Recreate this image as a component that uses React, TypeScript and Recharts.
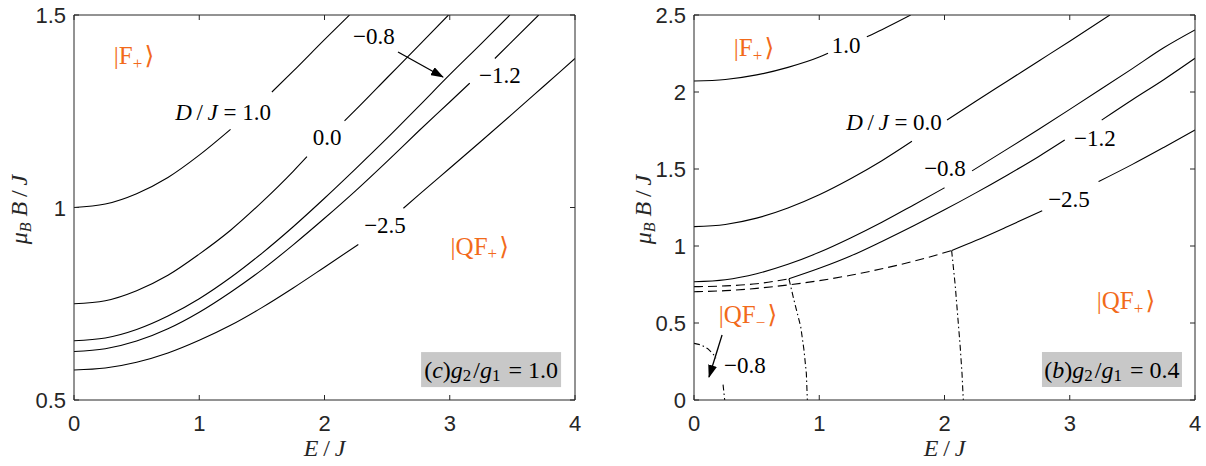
import React from 'react';
import { LineChart, Line, XAxis, YAxis, ReferenceDot, ReferenceLine } from 'recharts';

type Pt = [number, number];

const xTicks = [0, 1, 2, 3, 4];
const yTicksC = [0.5, 1, 1.5];
const yTicksB = [0, 0.5, 1, 1.5, 2, 2.5];

// panel (c), g2/g1 = 1.0 -- curves are cut where the contour labels sit
const c10a: Pt[] = [[0, 1.0], [0.25, 1.009], [0.5, 1.036], [0.75, 1.078], [1.0, 1.136], [1.25, 1.203]];
const c10b: Pt[] = [[1.58, 1.3], [1.75, 1.354], [2.0, 1.436], [2.2, 1.5]];
const c00a: Pt[] = [[0, 0.75], [0.25, 0.758], [0.5, 0.784], [0.75, 0.824], [1.0, 0.879], [1.25, 0.941], [1.5, 1.014], [1.75, 1.094], [1.86, 1.132]];
const c00b: Pt[] = [[2.16, 1.225], [2.25, 1.254], [2.5, 1.337], [2.75, 1.42], [2.99, 1.5]];
const cm08: Pt[] = [[0, 0.654], [0.25, 0.661], [0.5, 0.683], [0.75, 0.718], [1.0, 0.763], [1.25, 0.818], [1.5, 0.881], [1.75, 0.95], [2.0, 1.024], [2.25, 1.101], [2.5, 1.18], [2.75, 1.262], [3.0, 1.345], [3.25, 1.425], [3.48, 1.5]];
const cm12a: Pt[] = [[0, 0.626], [0.25, 0.633], [0.5, 0.653], [0.75, 0.685], [1.0, 0.728], [1.25, 0.78], [1.5, 0.838], [1.75, 0.903], [2.0, 0.972], [2.25, 1.044], [2.5, 1.12], [2.75, 1.198], [3.0, 1.274], [3.16, 1.323]];
const cm12b: Pt[] = [[3.36, 1.387], [3.5, 1.432], [3.71, 1.5]];
const cm25a: Pt[] = [[0, 0.578], [0.25, 0.583], [0.5, 0.598], [0.75, 0.622], [1.0, 0.655], [1.25, 0.694], [1.5, 0.74], [1.75, 0.791], [2.0, 0.845], [2.27, 0.904]];
const cm25b: Pt[] = [[2.63, 0.998], [2.75, 1.032], [3.0, 1.102], [3.25, 1.172], [3.5, 1.243], [3.75, 1.315], [4.0, 1.387]];

// panel (b), g2/g1 = 0.4
const b10a: Pt[] = [[0, 2.071], [0.25, 2.081], [0.5, 2.111], [0.75, 2.16], [1.0, 2.227], [1.07, 2.252]];
const b10b: Pt[] = [[1.38, 2.359], [1.5, 2.405], [1.73, 2.5]];
const b00a: Pt[] = [[0, 1.126], [0.25, 1.14], [0.5, 1.181], [0.75, 1.247], [1.0, 1.333], [1.25, 1.437], [1.5, 1.554], [1.74, 1.68]];
const b00b: Pt[] = [[2.02, 1.818], [2.25, 1.94], [2.5, 2.07], [2.75, 2.2], [3.0, 2.33], [3.32, 2.5]];
const bm08a: Pt[] = [[0, 0.768], [0.25, 0.781], [0.5, 0.82], [0.75, 0.881], [1.0, 0.959], [1.25, 1.052], [1.5, 1.154], [1.75, 1.265], [2.0, 1.378]];
const bm08b: Pt[] = [[2.22, 1.488], [2.5, 1.629], [2.75, 1.757], [3.0, 1.887], [3.25, 2.019], [3.5, 2.152], [3.75, 2.287], [4.0, 2.403]];
const bm12a: Pt[] = [[0.758, 0.787], [1.0, 0.855], [1.25, 0.935], [1.5, 1.03], [1.75, 1.13], [2.0, 1.235], [2.25, 1.345], [2.5, 1.46], [2.75, 1.58], [2.96, 1.688]];
const bm12b: Pt[] = [[3.255, 1.818], [3.5, 1.95], [3.75, 2.08], [4.0, 2.219]];
const bm25a: Pt[] = [[2.057, 0.97], [2.25, 1.035], [2.5, 1.125], [2.78, 1.229]];
const bm25b: Pt[] = [[3.23, 1.418], [3.5, 1.53], [3.75, 1.64], [4.0, 1.753]];
const bDashHi: Pt[] = [[0, 0.736], [0.25, 0.741], [0.5, 0.755], [0.758, 0.787]];
const bDashLo: Pt[] = [[0, 0.703], [0.25, 0.71], [0.5, 0.725], [0.75, 0.747], [1.0, 0.775], [1.25, 0.81], [1.5, 0.852], [1.75, 0.9], [2.057, 0.97]];
const bDotA: Pt[] = [[0.758, 0.787], [0.798, 0.649], [0.852, 0.476], [0.878, 0.325], [0.897, 0.173], [0.905, 0]];
const bDotB: Pt[] = [[2.057, 0.97], [2.085, 0.75], [2.105, 0.55], [2.125, 0.35], [2.14, 0.17], [2.15, 0]];
const bDotC1: Pt[] = [[0, 0.368], [0.06, 0.357], [0.11, 0.333], [0.15, 0.302], [0.175, 0.271]];
const bDotC2: Pt[] = [[0.232, 0.1], [0.245, 0]];

const toXY = (a: Pt[]) => a.map(([x, y]) => ({ x, y }));

const INK = '#262626';
const ORANGE = '#f26a1b';
const SERIF = '"Liberation Serif", "DejaVu Serif", serif';
const SANS = '"Liberation Sans", Arial, sans-serif';

const BottomTick = (p: any) => (
  <g>
    <line x1={p.x} y1={p.y} x2={p.x} y2={p.y - 5} stroke={INK} />
    <text x={p.x} y={p.y + 31} textAnchor="middle" fontFamily={SANS} fontSize={22} fill={INK}>{p.payload.value}</text>
  </g>
);
const TopTick = (p: any) => <line x1={p.x} y1={p.y} x2={p.x} y2={p.y + 5} stroke={INK} />;
const LeftTick = (p: any) => (
  <g>
    <line x1={p.x} y1={p.y} x2={p.x + 5} y2={p.y} stroke={INK} />
    <text x={p.x - 8} y={p.y + 8} textAnchor="end" fontFamily={SANS} fontSize={22} fill={INK}>{p.payload.value}</text>
  </g>
);
const RightTick = (p: any) => <line x1={p.x} y1={p.y} x2={p.x - 5} y2={p.y} stroke={INK} />;

const it = (s: string) => <tspan fontStyle="italic">{s}</tspan>;
const sub = (s: string, d = 6, size = 16) => (
  <>
    <tspan dy={d} fontSize={size}>{s}</tspan>
    <tspan dy={-d}>{'\u200a'}</tspan>
  </>
);

const text = (node: React.ReactNode, fill = '#000', size = 23) => (p: any) => (
  <text x={p.cx} y={p.cy} textAnchor="middle" dominantBaseline="central" fontFamily={SERIF} fontSize={size} fill={fill}>
    {node}
  </text>
);
const ket = (name: string, s: string) => text(<>|{name}{sub(s, 7, 17)}⟩</>, ORANGE, 25);
const dj = (v: string) => text(<>{it('D')}{'\u2009/\u2009'}{it('J')} = {v}</>);
const box = (tag: string, v: string) => (p: any) => (
  <g>
    <rect x={p.cx - 70} y={p.cy - 17.5} width={140} height={35} fill="#c8c8c8" />
    <text x={p.cx} y={p.cy} textAnchor="middle" dominantBaseline="central" fontFamily={SERIF} fontSize={24} fill="#000">
      ({it(tag)}){it('g')}{sub('2', 5, 17)}/{it('g')}{sub('1', 5, 17)} = {v}
    </text>
  </g>
);

type Note = { x: number; y: number; shape: (p: any) => React.ReactElement };
type Arrow = [number, number, number, number];

interface PanelProps {
  left: number;
  width: number;
  yDomain: [number, number];
  yTicks: number[];
  solid: Pt[][];
  dashed: Pt[][];
  dashDot: Pt[][];
  notes: Note[];
  arrows: Arrow[];
  yLabelGap: number;
}

function Panel({ left, width, yDomain, yTicks, solid, dashed, dashDot, notes, arrows, yLabelGap }: PanelProps) {
  const plotW = 501;
  return (
    <div style={{ position: 'absolute', left, top: 0 }}>
      <LineChart width={width} height={466} margin={{ top: 10, right: width - 74 - plotW - 5, bottom: 26, left: 14 }}>
        <XAxis xAxisId="b" dataKey="x" type="number" domain={[0, 4]} ticks={xTicks} allowDataOverflow
          height={40} tickSize={0} tickMargin={0} tickLine={false} stroke={INK} tick={BottomTick} interval={0}
          label={{
            content: (p: any) => {
              const vb = p.viewBox;
              return (
                <text x={vb.x + vb.width / 2} y={vb.y + 56} textAnchor="middle" fontFamily={SERIF} fontSize={24} fill={INK}>
                  {it('E')}{'\u2009/\u2009'}{it('J')}
                </text>
              );
            },
          }}
        />
        <XAxis xAxisId="t" orientation="top" dataKey="x" type="number" domain={[0, 4]} ticks={xTicks} allowDataOverflow
          height={5} tickSize={0} tickMargin={0} tickLine={false} stroke={INK} tick={TopTick} interval={0} />
        <YAxis yAxisId="l" type="number" domain={yDomain} ticks={yTicks} allowDataOverflow width={60}
          tickSize={0} tickMargin={0} tickLine={false} stroke={INK} tick={LeftTick} interval={0}
          label={{
            content: (p: any) => {
              const vb = p.viewBox;
              const cx = vb.x + vb.width - yLabelGap;
              const cy = vb.y + vb.height / 2 + 2;
              return (
                <text x={cx} y={cy} transform={`rotate(-90 ${cx} ${cy})`} textAnchor="middle" dominantBaseline="central"
                  fontFamily={SERIF} fontSize={24} fill={INK}>
                  {it('μ')}<tspan dy={6} fontSize={16} fontStyle="italic">B</tspan><tspan dy={-6}>{' '}</tspan>{it('B')}{'\u2009/\u2009'}{it('J')}
                </text>
              );
            },
          }}
        />
        <YAxis yAxisId="r" orientation="right" type="number" domain={yDomain} ticks={yTicks} allowDataOverflow width={5}
          tickSize={0} tickMargin={0} tickLine={false} stroke={INK} tick={RightTick} interval={0} />
        {solid.map((s, i) => (
          <Line key={`s${i}`} xAxisId="b" yAxisId="l" data={toXY(s)} dataKey="y" type="monotoneX" stroke="#000"
            strokeWidth={1.1} dot={false} activeDot={false} isAnimationActive={false} />
        ))}
        {dashed.map((s, i) => (
          <Line key={`d${i}`} xAxisId="b" yAxisId="l" data={toXY(s)} dataKey="y" type="monotoneX" stroke="#000"
            strokeWidth={1.1} strokeDasharray="9 5" dot={false} activeDot={false} isAnimationActive={false} />
        ))}
        {dashDot.map((s, i) => (
          <Line key={`dd${i}`} xAxisId="b" yAxisId="l" data={toXY(s)} dataKey="y" type="linear" stroke="#000"
            strokeWidth={1.1} strokeDasharray="6 3 1.5 3" dot={false} activeDot={false} isAnimationActive={false} />
        ))}
        {arrows.map(([x1, y1, x2, y2], i) => (
          <ReferenceLine key={`a${i}`} xAxisId="b" yAxisId="l" segment={[{ x: x1, y: y1 }, { x: x2, y: y2 }]}
            stroke="#000" strokeWidth={1.3} markerEnd="url(#arrowHead)" ifOverflow="visible" />
        ))}
        {notes.map((n, i) => (
          <ReferenceDot key={`n${i}`} xAxisId="b" yAxisId="l" x={n.x} y={n.y} r={0} shape={n.shape} ifOverflow="visible" />
        ))}
      </LineChart>
    </div>
  );
}

export default function App() {
  return (
    <div style={{ position: 'absolute', left: 0, top: 0, width: 1206, height: 466, background: '#fff', overflow: 'hidden' }}>
      <svg width={0} height={0} style={{ position: 'absolute' }}>
        <defs>
          <marker id="arrowHead" markerUnits="userSpaceOnUse" markerWidth={13} markerHeight={9} refX={12} refY={4.5} orient="auto">
            <path d="M0,0 L13,4.5 L0,9 z" fill="#000" />
          </marker>
        </defs>
      </svg>
      <Panel
        left={0}
        width={600}
        yDomain={[0.5, 1.5]}
        yTicks={yTicksC}
        solid={[c10a, c10b, c00a, c00b, cm08, cm12a, cm12b, cm25a, cm25b]}
        dashed={[]}
        dashDot={[]}
        arrows={[[2.587, 1.404, 2.946, 1.339]]}
        yLabelGap={55}
        notes={[
          { x: 0.479, y: 1.394, shape: ket('F', '+') },
          { x: 1.19, y: 1.248, shape: dj('1.0') },
          { x: 2.02, y: 1.181, shape: text('0.0') },
          { x: 2.395, y: 1.443, shape: text('−0.8') },
          { x: 3.4, y: 1.344, shape: text('−1.2') },
          { x: 2.483, y: 0.952, shape: text('−2.5') },
          { x: 3.24, y: 0.9, shape: ket('QF', '+') },
          { x: 3.33, y: 0.579, shape: box('c', '1.0') },
        ]}
      />
      <Panel
        left={620}
        width={586}
        yDomain={[0, 2.5]}
        yTicks={yTicksB}
        solid={[b10a, b10b, b00a, b00b, bm08a, bm08b, bm12a, bm12b, bm25a, bm25b]}
        dashed={[bDashHi, bDashLo]}
        dashDot={[bDotA, bDotB, bDotC1, bDotC2]}
        arrows={[[0.224, 0.422, 0.12, 0.149]]}
        yLabelGap={51}
        notes={[
          { x: 0.479, y: 2.286, shape: ket('F', '+') },
          { x: 1.214, y: 2.305, shape: text('1.0') },
          { x: 1.597, y: 1.805, shape: dj('0.0') },
          { x: 2.004, y: 1.506, shape: text('−0.8') },
          { x: 3.2, y: 1.701, shape: text('−1.2') },
          { x: 2.994, y: 1.305, shape: text('−2.5') },
          { x: 3.449, y: 0.643, shape: ket('QF', '+') },
          { x: 0.431, y: 0.552, shape: ket('QF', '−') },
          { x: 0.407, y: 0.221, shape: text('−0.8') },
          { x: 3.337, y: 0.198, shape: box('b', '0.4') },
        ]}
      />
    </div>
  );
}
